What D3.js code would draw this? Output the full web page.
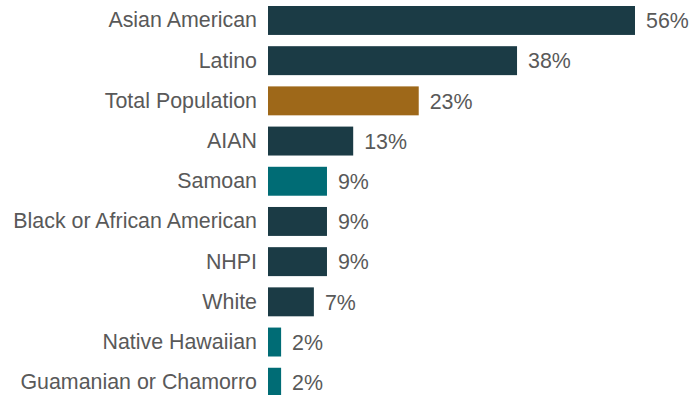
<!DOCTYPE html>
<html>
<head>
<meta charset="utf-8">
<script src="https://cdn.jsdelivr.net/npm/d3@7"></script>
<style>
  html, body { margin: 0; padding: 0; background: #fff; }
  svg { display: block; }
  text { font-family: "Liberation Sans", Arial, sans-serif; }
</style>
</head>
<body>
<svg id="chart" width="700" height="395"></svg>
<script>
const categories = ["Asian American", "Latino", "Total Population", "AIAN", "Samoan",
  "Black or African American", "NHPI", "White", "Native Hawaiian", "Guamanian or Chamorro"];
const values = [56, 38, 23, 13, 9, 9, 9, 7, 2, 2];
const groups = ["race", "race", "total", "race", "sub", "race", "race", "race", "sub", "sub"];
const colorMap = { race: "#1b3b45", total: "#9e6819", sub: "#006c75" };

const svg = d3.select("#chart");
const x0 = 268;
const x = d3.scaleLinear().domain([0, 56]).range([0, 367]);
const y = d3.scaleBand().domain(categories).range([6, 396.7]).paddingInner(0.28).paddingOuter(0);

const data = categories.map((c, i) => ({ cat: c, val: values[i], grp: groups[i] }));

const g = svg.append("g").attr("transform", `translate(${x0},0)`);

g.selectAll("rect").data(data).join("rect")
  .attr("x", 0)
  .attr("y", d => y(d.cat))
  .attr("width", d => x(d.val))
  .attr("height", y.bandwidth())
  .attr("fill", d => colorMap[d.grp]);

g.selectAll("text.val").data(data).join("text")
  .attr("class", "val")
  .attr("x", d => x(d.val) + 11)
  .attr("y", d => y(d.cat) + y.bandwidth() / 2)
  .attr("dy", "0.36em")
  .attr("font-size", 21.4)
  .attr("fill", "#595959")
  .text(d => d.val + "%");

const axis = d3.axisLeft(y).tickSize(0).tickPadding(11);
const ax = g.append("g").call(axis);
ax.select(".domain").remove();
ax.selectAll("text")
  .attr("font-size", 21.4)
  .attr("fill", "#595959")
  .attr("font-family", "Liberation Sans, Arial, sans-serif");
</script>
</body>
</html>
